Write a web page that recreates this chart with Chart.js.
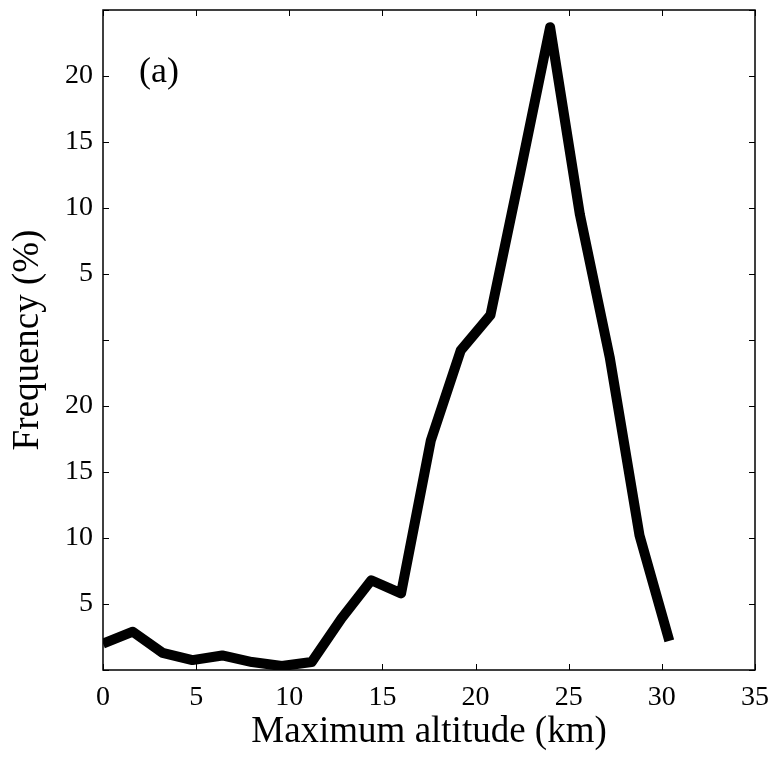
<!DOCTYPE html>
<html>
<head>
<meta charset="utf-8">
<script src="https://cdn.jsdelivr.net/npm/chart.js@4"></script>
<style>
  html, body { margin: 0; padding: 0; background: #fff; }
  #wrap { width: 772px; height: 758px; }
</style>
</head>
<body>
<div id="wrap"><canvas id="chart" width="772" height="758"></canvas></div>
<script>
// altitude bins (km) and frequency values
const altitudes = [0, 1.6, 3.2, 4.8, 6.4, 8.0, 9.6, 11.2, 12.8, 14.4, 16.0, 17.6, 19.2, 20.8, 22.4, 24.0, 25.6, 27.2, 28.8, 30.4];
const frequency = [2.0, 2.9, 1.3, 0.75, 1.1, 0.6, 0.3, 0.6, 3.9, 6.8, 5.8, 17.4, 24.2, 26.9, 37.7, 48.7, 34.5, 23.7, 10.2, 2.2];
const xTicks = [0, 5, 10, 15, 20, 25, 30, 35];
const yTicks = [0, 5, 10, 15, 20, 25, 30, 35, 40, 45, 50];
const yTickLabels = ["", "5", "10", "15", "20", "", "5", "10", "15", "20", ""];

const serif = "'Liberation Serif', 'DejaVu Serif', serif";

// inward ticks on all four sides plus the box, like the original figure
const frameTicks = {
  id: "frameTicks",
  afterDatasetsDraw(chart) {
    const { ctx, chartArea: a, scales } = chart;
    const len = 6;
    ctx.save();
    ctx.strokeStyle = "#000";
    ctx.lineWidth = 1;
    ctx.beginPath();
    xTicks.forEach(v => {
      const px = Math.round(scales.x.getPixelForValue(v)) + 0.5;
      ctx.moveTo(px, a.bottom); ctx.lineTo(px, a.bottom - len);
      ctx.moveTo(px, a.top); ctx.lineTo(px, a.top + len);
    });
    yTicks.forEach(v => {
      const py = Math.round(scales.y.getPixelForValue(v)) + 0.5;
      ctx.moveTo(a.left, py); ctx.lineTo(a.left + len, py);
      ctx.moveTo(a.right, py); ctx.lineTo(a.right - len, py);
    });
    ctx.stroke();
    ctx.lineWidth = 1.5;
    ctx.strokeRect(a.left, a.top, a.right - a.left, a.bottom - a.top);
    ctx.fillStyle = "#000";
    ctx.font = "36px " + serif;
    ctx.textBaseline = "middle";
    ctx.fillText("(a)", 139, 73);
    ctx.restore();
  }
};

new Chart(document.getElementById("chart"), {
  type: "line",
  data: {
    datasets: [{
      data: altitudes.map((x, i) => ({ x: x, y: frequency[i] })),
      borderColor: "#000",
      borderWidth: 10,
      borderJoinStyle: "round",
      borderCapStyle: "butt",
      pointRadius: 0,
      tension: 0,
      fill: false
    }]
  },
  options: {
    responsive: false,
    animation: false,
    layout: { padding: { left: 0, right: 17, top: 10, bottom: 0 } },
    plugins: { legend: { display: false }, tooltip: { enabled: false } },
    scales: {
      x: {
        type: "linear",
        min: 0, max: 35,
        afterBuildTicks(s) { s.ticks = xTicks.map(v => ({ value: v })); },
        afterFit(s) { s.height = 88; s.paddingLeft = 0; s.paddingRight = 0; },
        grid: { display: false, drawTicks: false },
        border: { display: false },
        ticks: { color: "#000", padding: 11, font: { family: serif, size: 28 } },
        title: { display: true, text: "Maximum altitude (km)", color: "#000", padding: { top: 0 }, font: { family: serif, size: 37 } }
      },
      y: {
        type: "linear",
        min: 0, max: 50,
        afterBuildTicks(s) { s.ticks = yTicks.map(v => ({ value: v })); },
        afterFit(s) { s.width = 103; s.paddingTop = 0; s.paddingBottom = 0; },
        grid: { display: false, drawTicks: false },
        border: { display: false },
        ticks: {
          color: "#000", padding: 10, font: { family: serif, size: 28 },
          callback(value) { return yTickLabels[yTicks.indexOf(value)]; }
        },
        title: { display: true, text: "Frequency (%)", color: "#000", padding: { top: 6, bottom: 0 }, font: { family: serif, size: 37 } }
      }
    }
  },
  plugins: [frameTicks]
});
</script>
</body>
</html>
